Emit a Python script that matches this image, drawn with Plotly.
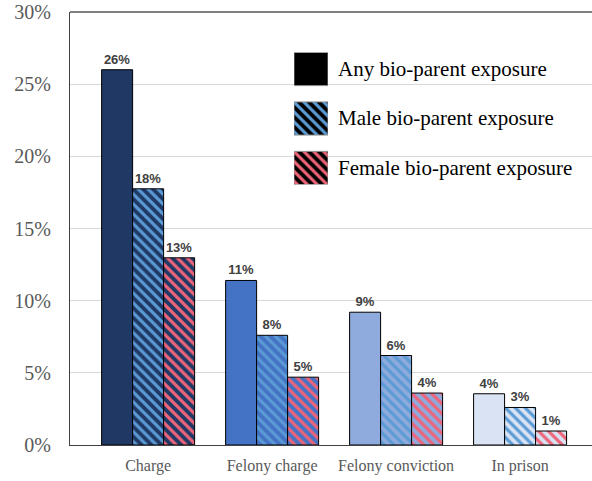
import plotly.graph_objects as go

categories = ["Charge", "Felony charge", "Felony conviction", "In prison"]
series_names = ["Any bio-parent exposure", "Male bio-parent exposure", "Female bio-parent exposure"]
any_vals = [26.0, 11.4, 9.2, 3.55]
male_vals = [17.75, 7.6, 6.2, 2.6]
female_vals = [12.97, 4.7, 3.6, 0.97]
y_ticks = [0, 5, 10, 15, 20, 25, 30]
y_tick_text = ["0%", "5%", "10%", "15%", "20%", "25%", "30%"]

group_colors = ["#203864", "#4472C4", "#8FAADC", "#DAE3F3"]
stripe_colors = [None, "#5B9BD5", "#EE6479"]

W, H = 592, 481
ML, MR, MT, MB = 70, 0, 12, 36
pw, ph = W - ML - MR, H - MT - MB

fig = go.Figure()

label_font = dict(family="Liberation Sans, Arial", size=13, color="#404040", weight="bold")
series_vals = [any_vals, male_vals, female_vals]

for s, (name, vals, stripe) in enumerate(zip(series_names, series_vals, stripe_colors)):
    for c, (cat, v, gc) in enumerate(zip(categories, vals, group_colors)):
        marker = dict(color=gc, line=dict(color="black", width=1))
        if stripe:
            marker["pattern"] = dict(shape="\\", fgcolor=stripe, bgcolor=gc,
                                     size=7, solidity=0.45, fillmode="replace")
        fig.add_trace(go.Bar(x=[cat], y=[v], name=name, offsetgroup=str(s),
                             marker=marker, texttemplate="%{y:.0f}%", textposition="outside",
                             textfont=label_font, cliponaxis=False, showlegend=False,
                             hoverinfo="skip"))

# Legend swatches drawn as a small horizontal bar chart in its own axes
sw_left, sw_right = 294, 328
sw_top, sw_bottom = 52.5, 184.5
legend_pos = [0, 1, 2]
for name, pos, stripe in zip(series_names, legend_pos, stripe_colors):
    marker = dict(color="black", line=dict(color="#8c8c8c", width=1))
    if stripe:
        marker["pattern"] = dict(shape="\\", fgcolor=stripe, bgcolor="black",
                                 size=7, solidity=0.45, fillmode="replace")
    fig.add_trace(go.Bar(x=[1], y=[pos], orientation="h", width=0.67, offsetgroup="legend",
                         xaxis="x2", yaxis="y2", showlegend=False, hoverinfo="skip",
                         marker=marker))


def px_to_paper_x(px):
    return (px - ML) / pw


def px_to_paper_y(py):
    return (H - MB - py) / ph


legend_text_y = [69, 118, 168]
annotations = []
for name, ty in zip(series_names, legend_text_y):
    annotations.append(dict(x=px_to_paper_x(336), y=px_to_paper_y(ty), xref="paper", yref="paper",
                            text=name, showarrow=False, xanchor="left", yanchor="middle",
                            font=dict(family="Liberation Serif", size=21, color="black")))

fig.update_layout(
    width=W, height=H,
    margin=dict(l=ML, r=MR, t=MT, b=MB, autoexpand=False),
    paper_bgcolor="white", plot_bgcolor="white",
    barmode="group", bargap=0.25, bargroupgap=0,
    showlegend=False,
    annotations=annotations,
    xaxis=dict(type="category", range=[-0.63, 3.58], showgrid=False, showline=True,
               linecolor="#404040", linewidth=1, ticks="", zeroline=False,
               ticklabelstandoff=6,
               tickfont=dict(family="Liberation Serif", size=16, color="#595959")),
    yaxis=dict(range=[0, 30], tickmode="array", tickvals=y_ticks, ticktext=y_tick_text,
               showgrid=True, gridcolor="#d9d9d9", gridwidth=1, showline=True,
               linecolor="#404040", linewidth=1, ticks="outside", ticklen=14,
               tickcolor="rgba(0,0,0,0)", zeroline=False, ticklabeloverflow="allow",
               tickfont=dict(family="Liberation Serif", size=20, color="#595959")),
    xaxis2=dict(domain=[px_to_paper_x(sw_left), px_to_paper_x(sw_right)], range=[0, 1],
                anchor="y2", visible=False, fixedrange=True),
    yaxis2=dict(domain=[px_to_paper_y(sw_bottom), px_to_paper_y(sw_top)], range=[2.335, -0.335],
                anchor="x2", visible=False, fixedrange=True),
    shapes=[dict(type="line", xref="paper", yref="paper", x0=0, x1=1, y0=1, y1=1,
                 line=dict(color="#7f7f7f", width=2), layer="above")],
)

fig.write_html("out.html", config={"displayModeBar": False},
               post_script="document.body.style.margin='0';document.body.style.overflow='hidden';")
